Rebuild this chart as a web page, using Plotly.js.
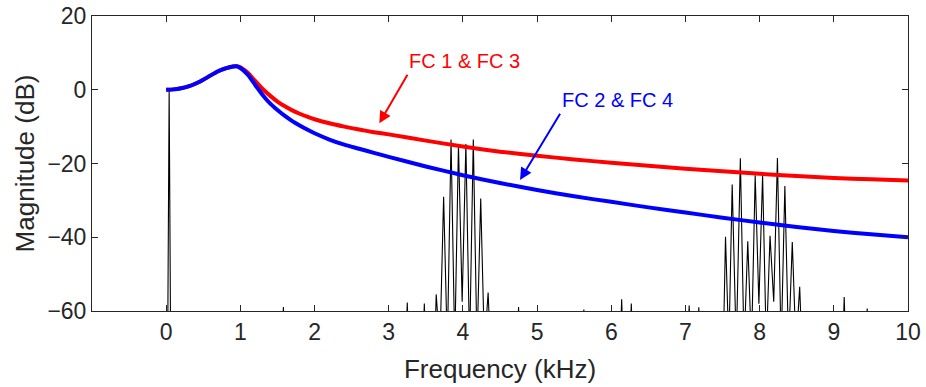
<!DOCTYPE html>
<html>
<head>
<meta charset="utf-8">
<script src="https://cdn.plot.ly/plotly-3.0.1.min.js"></script>
<style>html,body{margin:0;padding:0;background:#fff;}#chart{width:926px;height:387px;}</style>
</head>
<body>
<div id="chart"></div>
<script>
// Filter response frequencies (kHz)
const curveFreq = [0, 0.1, 0.2, 0.3, 0.4, 0.5, 0.6, 0.7, 0.8, 0.9, 0.95, 1.0, 1.1, 1.2, 1.3, 1.4, 1.5, 1.6, 1.7, 1.8, 1.9, 2.0,
  2.2, 2.4, 2.6, 2.8, 3.0, 3.5, 4.0, 4.5, 5.0, 5.5, 6.0, 6.5, 7.0, 7.5, 8.0, 8.5, 9.0, 9.5, 10];
// FC 1 & FC 3 magnitude (dB)
const fc13Db = [0, 0.1, 0.4, 0.9, 1.7, 2.7, 3.9, 5.0, 5.8, 6.3, 6.35, 6.1, 4.6, 2.4, 0.2, -1.6, -3.2, -4.5, -5.6, -6.5, -7.3, -8.0,
  -9.1, -10.0, -10.8, -11.5, -12.1, -13.8, -15.4, -16.8, -17.9, -18.9, -19.8, -20.6, -21.4, -22.1, -22.8, -23.4, -23.9, -24.3, -24.6];
// FC 2 & FC 4 magnitude (dB)
const fc24Db = [0, 0.1, 0.4, 0.9, 1.7, 2.7, 3.9, 5.0, 5.8, 6.3, 6.35, 5.9, 4.1, 1.3, -1.4, -3.7, -5.5, -7.1, -8.5, -9.7, -10.8, -11.8,
  -13.5, -14.9, -16.0, -17.1, -18.2, -20.8, -23.2, -25.3, -27.2, -28.9, -30.4, -31.9, -33.3, -34.7, -36.0, -37.2, -38.3, -39.2, -40.0];

// Signal spectrum (kHz, dB)
const specFreq = [-1, 0.02, 0.04, 0.06,
  1.56, 1.58, 1.60, 3.23, 3.25, 3.27, 3.46, 3.48, 3.50,
  3.62, 3.64, 3.69, 3.74, 3.79, 3.84, 3.89, 3.94, 3.99, 4.04, 4.09, 4.14, 4.19, 4.24, 4.29, 4.34, 4.37,
  4.73, 4.75, 4.77, 5.61, 5.63, 5.65, 6.12, 6.14, 6.16, 6.25, 6.27, 6.29,
  7.03, 7.05, 7.07, 7.16, 7.18, 7.20,
  7.51, 7.54, 7.585, 7.63, 7.685, 7.74, 7.79, 7.84, 7.89, 7.94, 7.99, 8.04, 8.09, 8.14, 8.19, 8.24, 8.29, 8.34, 8.39, 8.44, 8.49, 8.54, 8.57,
  9.12, 9.14, 9.16, 9.43, 9.45, 9.47, 10];
const specDb = [-70, -70, 0, -70,
  -70, -58.9, -70, -70, -57.7, -70, -70, -58, -70,
  -70, -55.5, -70, -29, -70, -13.5, -70, -14.9, -57.5, -14.7, -70, -13.5, -70, -29.5, -70, -55, -70,
  -70, -58.9, -70, -70, -59.6, -70, -70, -56.8, -70, -70, -58, -70,
  -70, -58.5, -70, -70, -59, -70,
  -70, -39.9, -70, -25.7, -70, -18.6, -70, -41.1, -70, -23.2, -58, -23.2, -70, -39.6, -57.5, -18.5, -70, -26.1, -70, -41.3, -70, -53.4, -70,
  -70, -56.2, -70, -70, -59.3, -70, -70];

const xTicks = [0, 1, 2, 3, 4, 5, 6, 7, 8, 9, 10];
const yTicks = [-60, -40, -20, 0, 20];
const labels = ['FC 1 & FC 3', 'FC 2 & FC 4'];

const font = 'Liberation Sans, Arial, Helvetica, sans-serif';
const axisColor = '#262626';

const traces = [
  {x: specFreq, y: specDb, mode: 'lines', line: {color: '#000', width: 1.1}, hoverinfo: 'skip', showlegend: false},
  {x: curveFreq, y: fc13Db, mode: 'lines', line: {color: '#ff0000', width: 4, shape: 'spline', smoothing: 0.5}, showlegend: false},
  {x: curveFreq, y: fc24Db, mode: 'lines', line: {color: '#0000ff', width: 4, shape: 'spline', smoothing: 0.5}, showlegend: false}
];

const axisCommon = {
  showgrid: false, zeroline: false, showline: true, linecolor: axisColor, linewidth: 1,
  mirror: 'ticks', ticks: 'inside', ticklen: 6, tickcolor: axisColor, tickwidth: 1,
  tickfont: {family: font, size: 23, color: axisColor}
};

const layout = {
  width: 926, height: 387,
  margin: {l: 92, r: 18, t: 16, b: 76},
  paper_bgcolor: '#fff', plot_bgcolor: '#fff',
  xaxis: Object.assign({}, axisCommon, {
    range: [-1, 10], tickvals: xTicks, ticktext: xTicks.map(String),
    title: {text: 'Frequency (kHz)', font: {family: font, size: 26, color: axisColor}, standoff: 16}
  }),
  yaxis: Object.assign({}, axisCommon, {
    range: [-60, 20], tickvals: yTicks,
    title: {text: 'Magnitude (dB)', font: {family: font, size: 26, color: axisColor}, standoff: 5}
  }),
  annotations: [
    {x: 4.028, y: 7.88, xref: 'x', yref: 'y', text: labels[0], showarrow: false, font: {family: font, size: 20, color: '#ff0000'}},
    {x: 2.873, y: -9.1, ax: 3.264, ay: 4.46, xref: 'x', yref: 'y', axref: 'x', ayref: 'y', text: '', showarrow: true, arrowhead: 2, arrowsize: 1.2, arrowwidth: 2, arrowcolor: '#ff0000'},
    {x: 6.081, y: -2.78, xref: 'x', yref: 'y', text: labels[1], showarrow: false, font: {family: font, size: 20, color: '#0000ff'}},
    {x: 4.77, y: -24.47, ax: 5.322, ay: -6.12, xref: 'x', yref: 'y', axref: 'x', ayref: 'y', text: '', showarrow: true, arrowhead: 2, arrowsize: 1.2, arrowwidth: 2, arrowcolor: '#0000ff'}
  ]
};

Plotly.newPlot('chart', traces, layout, {displayModeBar: false, staticPlot: true});
</script>
</body>
</html>
